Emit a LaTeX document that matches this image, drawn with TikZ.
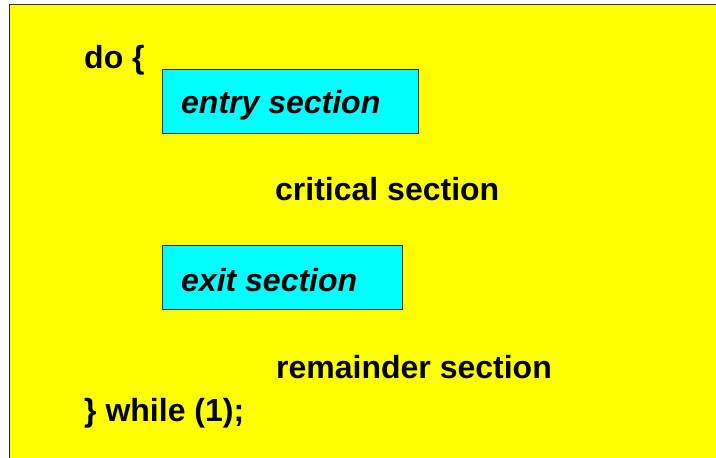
\documentclass[tikz,border=0pt]{standalone}
\usepackage{fontspec}
\setmainfont{Liberation Sans}
\definecolor{bgyellow}{HTML}{FFFF00}
\definecolor{boxcyan}{HTML}{00FFFF}
\definecolor{edge}{HTML}{333333}
\begin{document}
\begin{tikzpicture}[x=1pt,y=-1pt,
  codetext/.style={inner sep=0pt,anchor=base west,font=\fontsize{32}{36}\selectfont\bfseries},
  sectbox/.style={fill=boxcyan,draw=edge,line width=1pt},
  sectlabel/.style={codetext,font=\fontsize{32}{36}\selectfont\bfseries\itshape}]
\clip (0,0) rectangle (716,458);
\fill[white] (0,0) rectangle (716,458);
\draw[fill=bgyellow,draw=edge,line width=1.6pt] (9.5,4.5) rectangle (730,470);
\draw[sectbox] (162,69) rectangle (418,133);
\draw[sectbox] (162,245) rectangle (402,309);
\node[codetext] (do) at (84,68) {do \{};
\node[sectlabel] (entry) at (181,113) {entry section};
\node[codetext] (crit) at (275,200) {critical section};
\node[sectlabel] (exit) at (181,291) {exit section};
\node[codetext] (rem) at (276,378) {remainder section};
\node[codetext] (while) at (84,421) {\} while (1);};
\end{tikzpicture}
\end{document}
